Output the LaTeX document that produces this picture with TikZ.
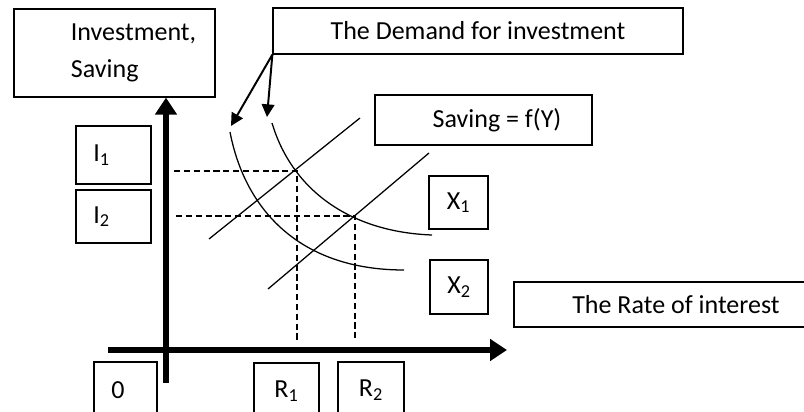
\documentclass[tikz,border=0pt]{standalone}
\usepackage{fontspec}
\setmainfont{Carlito}
\usetikzlibrary{arrows.meta}

\begin{document}
\begin{tikzpicture}[x=0.025cm,y=-0.025cm,
	box/.style={draw,line width=0.9pt,inner sep=0pt,font=\fontsize{18.5}{26}\selectfont},
	axis/.style={line width=3.6pt,-{Triangle[length=12pt,width=15pt]}},
	guide/.style={line width=1.1pt,dash pattern=on 4.4pt off 2.6pt},
	curve/.style={line width=0.9pt},
	pointer/.style={line width=1.4pt,-{Triangle[length=9pt,width=9pt]}}]
	\def\pix{0.025cm} %one pixel of the reference
	\useasboundingbox (0,0) rectangle (804,412);
	\clip (0,0) rectangle (804,412);
	
	%LABEL BOXES
	\node[box,minimum width=201*\pix,minimum height=88*\pix,align=left] (invest) at (114.5,53) {\hspace*{0.95cm}Investment,\\\hspace*{0.95cm}Saving};
	\node[box,minimum width=410*\pix,minimum height=46*\pix] (demand) at (478,31) {The Demand for investment};
	\node[box,minimum width=217*\pix,minimum height=50*\pix] (saving) at (483.5,120) {\hspace*{0.675cm}Saving = f(Y)};
	\node[box,minimum width=75*\pix,minimum height=58*\pix] (i1) at (113.5,155) {I\textsubscript{1}\hspace*{0.6cm}};
	\node[box,minimum width=75*\pix,minimum height=53*\pix] (i2) at (113.5,216.5) {I\textsubscript{2}\hspace*{0.6cm}};
	\node[box,minimum width=59*\pix,minimum height=53*\pix] (x1) at (458.5,202.5) {X\textsubscript{1}};
	\node[box,minimum width=58*\pix,minimum height=54*\pix] (x2) at (459,287) {X\textsubscript{2}};
	\node[box,minimum width=324*\pix,minimum height=45*\pix] (rate) at (676,304.5) {The Rate of interest};
	\node[box,minimum width=63*\pix,minimum height=56*\pix] (zero) at (125.5,390) {0\hspace*{0.375cm}};
	\node[box,minimum width=65*\pix,minimum height=56*\pix] (r1) at (286.5,391) {R\textsubscript{1}};
	\node[box,minimum width=66*\pix,minimum height=56*\pix] (r2) at (371,390) {R\textsubscript{2}};
	
	%AXES
	\coordinate (ybase) at (166,383);
	\coordinate (xbase) at (108,350);
	\coordinate (xtip) at (507,350);
	\draw[axis] (ybase) -- (ybase |- invest.south);
	\draw[axis] (xbase) -- (xtip);
	
	%EQUILIBRIA
	\coordinate (e1) at (297,171);
	\coordinate (e2) at (355,216);
	\draw[guide] (174,171) -- (e1) -- (297,341);
	\draw[guide] (176,216) -- (e2) -- (355,341);
	
	%SAVING LINES
	\draw[curve] (209,239) -- (360,118);
	\draw[curve] (268,289) -- (429,153);
	
	%DEMAND CURVES
	\draw[curve] (230,132) .. controls (245,210) and (300,270) .. (404,270);
	\draw[curve] (272,123) .. controls (292,190) and (350,232) .. (432,235);
	
	\coordinate (tipA) at (231,126);
	\coordinate (tipB) at (267,117);
	\draw[pointer] (demand.south west) -- (tipA);
	\draw[pointer] (demand.south west) -- (tipB);
\end{tikzpicture}
\end{document}
